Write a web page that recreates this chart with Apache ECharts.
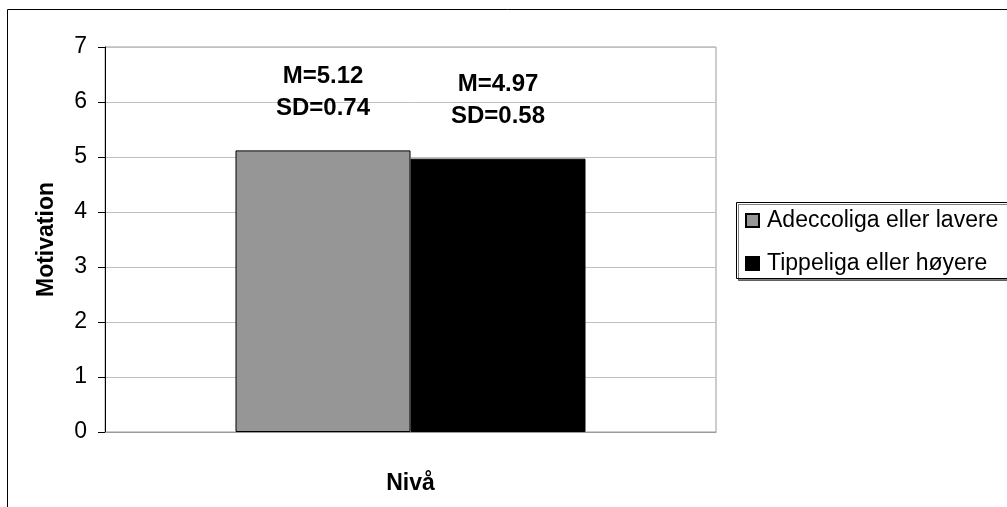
<!DOCTYPE html>
<html>
<head>
<meta charset="utf-8">
<script src="https://cdn.jsdelivr.net/npm/echarts@6/dist/echarts.min.js"></script>
<style>html,body{margin:0;padding:0;background:#fff}#c{width:1007px;height:507px}</style>
</head>
<body>
<div id="c"></div>
<script>
var categories = ['Nivå'];
var seriesNames = ['Adeccoliga eller lavere', 'Tippeliga eller høyere'];
var meanLow = [5.12];
var meanHigh = [4.97];
var sdLow = [0.74];
var sdHigh = [0.58];
var yTicks = [0, 1, 2, 3, 4, 5, 6, 7];

var chart = echarts.init(document.getElementById('c'));
var FONT = '"Liberation Sans", Arial, sans-serif';
function lbl(sds) {
  return {
    show: true, position: 'top', distance: 26,
    fontFamily: FONT, fontWeight: 'bold', fontSize: 24, lineHeight: 32, color: '#000',
    formatter: function (p) { return 'M=' + p.value.toFixed(2) + '\nSD=' + sds[p.dataIndex].toFixed(2); }
  };
}
chart.setOption({
  animation: false,
  backgroundColor: '#fff',
  graphic: [{
    type: 'rect', shape: { x: 7.5, y: 9.5, width: 1100, height: 600 },
    style: { fill: 'none', stroke: '#000', lineWidth: 1 }, z: -10
  }, {
    type: 'rect', shape: { x: 736.5, y: 202.5, width: 320, height: 76 },
    style: { fill: '#fff', stroke: '#000', lineWidth: 1,
      shadowColor: 'rgba(0,0,0,0.5)', shadowOffsetX: 2, shadowOffsetY: 2 }, z: 5
  }],
  grid: { left: 105, top: 47, width: 611, height: 385, show: true, borderColor: '#9a9a9a', borderWidth: 1 },
  legend: {
    orient: 'vertical', left: 736, top: 202, z: 10,
    padding: [7, 0, 4, 9], itemGap: 20, itemWidth: 13, itemHeight: 13,
    icon: 'rect',
    textStyle: { fontFamily: FONT, fontSize: 23, color: '#000', lineHeight: 23, padding: [0, 0, 0, 3] },
    data: seriesNames
  },
  xAxis: {
    type: 'category', data: categories,
    name: 'Nivå', nameLocation: 'middle', nameGap: 40,
    nameTextStyle: { fontFamily: FONT, fontWeight: 'bold', fontSize: 23, color: '#000' },
    axisLine: { lineStyle: { color: '#9a9a9a' } },
    axisTick: { show: false }, axisLabel: { show: false }
  },
  yAxis: {
    type: 'value', min: 0, max: 7, interval: 1,
    name: 'Motivation', nameLocation: 'middle', nameGap: 47,
    nameTextStyle: { fontFamily: FONT, fontWeight: 'bold', fontSize: 23, color: '#000' },
    axisLine: { show: true, lineStyle: { color: '#000' } },
    axisTick: { show: true, length: 7, lineStyle: { color: '#000' } },
    axisLabel: { margin: 18, fontFamily: FONT, fontSize: 23, color: '#000',
      formatter: function (v) { return yTicks.indexOf(v) >= 0 ? String(v) : ''; } },
    splitLine: { lineStyle: { color: '#c0c0c0' } }
  },
  series: [
    { name: seriesNames[0], type: 'bar', data: meanLow, barWidth: 175, barGap: '0%',
      itemStyle: { color: '#969696', borderColor: '#000', borderWidth: 1 }, label: lbl(sdLow) },
    { name: seriesNames[1], type: 'bar', data: meanHigh, barWidth: 175, barGap: '0%',
      itemStyle: { color: '#000', borderColor: '#000', borderWidth: 1 }, label: lbl(sdHigh) }
  ]
});
</script>
</body>
</html>
